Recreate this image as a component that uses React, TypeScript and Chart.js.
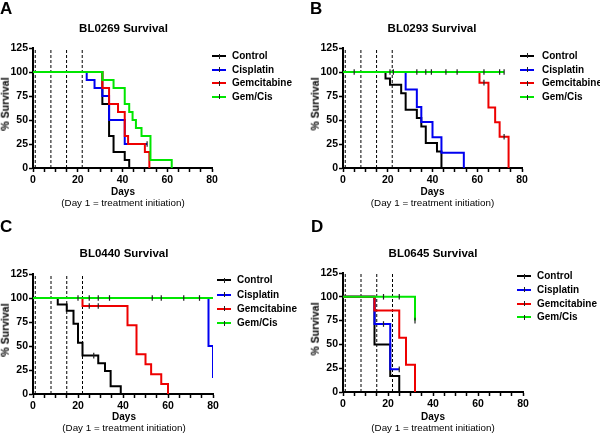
import React, { useEffect, useRef } from 'react';
import { Chart, registerables } from 'chart.js';

Chart.register(...registerables);

type Pt = [number, number];

// ---------- shared data ----------
const seriesNames = ['Control', 'Cisplatin', 'Gemcitabine', 'Gem/Cis'];
const treatmentDays = [1, 8, 15, 22];
const xTickLabels = [0, 20, 40, 60, 80];
const yTickValues = [0, 25, 50, 75, 100, 125];

// ---------- BL0269 ----------
const bl0269Control: Pt[] = [[0, 100], [31, 66.7], [34, 33.3], [36, 16.7], [41, 8.3], [43, 0]];
const bl0269ControlCens: number[] = [];
const bl0269Cisplatin: Pt[] = [[0, 100], [24, 91.7], [27.5, 83.3], [31, 75], [34, 50], [41, 25], [51, 25]];
const bl0269CisplatinCens: number[] = [51];
const bl0269Gemcitabine: Pt[] = [[0, 100], [31, 83.3], [34, 66.7], [38, 58.3], [41, 33.3], [42.5, 25], [50, 16.7], [52, 0]];
const bl0269GemcitabineCens: number[] = [];
const bl0269GemCis: Pt[] = [[0, 100], [31, 91.7], [36, 83.3], [41, 66.7], [43, 58.3], [44.5, 50], [46, 41.7], [48.5, 33.3], [52.5, 8.3], [62, 0]];
const bl0269GemCisCens: number[] = [];

// ---------- BL0293 ----------
const bl0293Control: Pt[] = [[0, 100], [19, 93.3], [21, 86.7], [26, 77.8], [28, 60.7], [33, 52], [35, 43.3], [37, 26], [42, 17.3], [44, 0]];
const bl0293ControlCens: number[] = [];
const bl0293Cisplatin: Pt[] = [[0, 100], [28, 81.8], [33, 63.6], [35, 48], [40, 32], [44, 16], [54, 0]];
const bl0293CisplatinCens: number[] = [];
const bl0293Gemcitabine: Pt[] = [[0, 100], [61, 88.9], [65, 63], [68, 47.6], [70, 32.5], [74, 0]];
const bl0293GemcitabineCens: number[] = [63, 72];
const bl0293GemCis: Pt[] = [[0, 100], [72, 100]];
const bl0293GemCisCens: number[] = [5, 21, 22.5, 33, 37, 39.5, 46, 51, 63, 70, 72];

// ---------- BL0440 ----------
const bl0440Control: Pt[] = [[0, 100], [11, 93.3], [15, 86.7], [18, 73.3], [20, 53.3], [22, 40], [29, 32], [32, 24], [34.5, 8], [39, 0]];
const bl0440ControlCens: number[] = [27];
const bl0440Cisplatin: Pt[] = [[0, 100], [78, 50], [80, 16.7]];
const bl0440CisplatinCens: number[] = [];
const bl0440Gemcitabine: Pt[] = [[0, 100], [22, 91.7], [42, 71.5], [46, 41.3], [50, 31], [52.5, 20.6], [57, 10.3], [60, 0]];
const bl0440GemcitabineCens: number[] = [25, 29];
const bl0440GemCis: Pt[] = [[0, 100], [80, 100]];
const bl0440GemCisCens: number[] = [20, 25, 29, 34, 53, 57, 67, 74];

// ---------- BL0645 ----------
const bl0645Control: Pt[] = [[0, 100], [14, 50], [21, 16.7], [25, 0]];
const bl0645ControlCens: number[] = [];
const bl0645Cisplatin: Pt[] = [[0, 100], [14, 71.4], [21, 23.8], [25, 23.8]];
const bl0645CisplatinCens: number[] = [18, 25];
const bl0645Gemcitabine: Pt[] = [[0, 100], [14, 85.7], [25, 57.1], [28, 28.6], [32, 0]];
const bl0645GemcitabineCens: number[] = [];
const bl0645GemCis: Pt[] = [[0, 100], [32, 75]];
const bl0645GemCisCens: number[] = [18, 25, 32];

// ---------- styles ----------
const seriesColors = ['#000000', '#0000f0', '#ee0000', '#00e600'];
const seriesOrder = [4, 3, 2, 1];
const FONT = "'Liberation Sans', Arial, Helvetica, sans-serif";

type PanelDef = {
  letter: string;
  title: string;
  left: number;
  top: number;
  area: { l: number; r: number; t: number; b: number };
  letterX: number;
  letterY: number;
  titleCx: number;
  titleCy: number;
  yTitleX: number;
  daysCx: number;
  daysCy: number;
  legLineX: number;
  legTextX: number;
  legYs: number[];
  series: { events: Pt[]; cens: number[] }[];
};

const panels: PanelDef[] = [
  {
    letter: 'A', title: 'BL0269 Survival', left: 0, top: 0,
    area: { l: 33, r: 212, t: 48, b: 168 },
    letterX: 0, letterY: 0, titleCx: 123.5, titleCy: 29, yTitleX: 5,
    daysCx: 123, daysCy: 192, legLineX: 212, legTextX: 232, legYs: [56, 69.5, 83, 96.7],
    series: [
      { events: bl0269Control, cens: bl0269ControlCens },
      { events: bl0269Cisplatin, cens: bl0269CisplatinCens },
      { events: bl0269Gemcitabine, cens: bl0269GemcitabineCens },
      { events: bl0269GemCis, cens: bl0269GemCisCens },
    ],
  },
  {
    letter: 'B', title: 'BL0293 Survival', left: 300, top: 0,
    area: { l: 43, r: 222, t: 48, b: 168 },
    letterX: 10, letterY: 0, titleCx: 132, titleCy: 29, yTitleX: 15,
    daysCx: 132.5, daysCy: 192, legLineX: 220, legTextX: 242, legYs: [55.7, 69.7, 83, 97],
    series: [
      { events: bl0293Control, cens: bl0293ControlCens },
      { events: bl0293Cisplatin, cens: bl0293CisplatinCens },
      { events: bl0293Gemcitabine, cens: bl0293GemcitabineCens },
      { events: bl0293GemCis, cens: bl0293GemCisCens },
    ],
  },
  {
    letter: 'C', title: 'BL0440 Survival', left: 0, top: 217,
    area: { l: 33, r: 213, t: 57, b: 177 },
    letterX: 0, letterY: 1, titleCx: 124, titleCy: 36.7, yTitleX: 5,
    daysCx: 124, daysCy: 200, legLineX: 217, legTextX: 237, legYs: [63.3, 77.7, 91.7, 106],
    series: [
      { events: bl0440Control, cens: bl0440ControlCens },
      { events: bl0440Cisplatin, cens: bl0440CisplatinCens },
      { events: bl0440Gemcitabine, cens: bl0440GemcitabineCens },
      { events: bl0440GemCis, cens: bl0440GemCisCens },
    ],
  },
  {
    letter: 'D', title: 'BL0645 Survival', left: 300, top: 217,
    area: { l: 43, r: 223, t: 56, b: 175 },
    letterX: 11, letterY: 1, titleCx: 133, titleCy: 36.7, yTitleX: 15,
    daysCx: 133, daysCy: 200, legLineX: 217, legTextX: 237, legYs: [59.3, 72.7, 86.7, 100],
    series: [
      { events: bl0645Control, cens: bl0645ControlCens },
      { events: bl0645Cisplatin, cens: bl0645CisplatinCens },
      { events: bl0645Gemcitabine, cens: bl0645GemcitabineCens },
      { events: bl0645GemCis, cens: bl0645GemCisCens },
    ],
  },
];

function buildSeries(events: Pt[], cens: number[]) {
  const pts: { x: number; y: number; c: boolean }[] = events.map(([x, y]) => ({ x, y, c: false }));
  for (const d of cens) {
    let y = 100;
    for (const [ex, ey] of events) if (ex <= d) y = ey;
    pts.push({ x: d, y, c: true });
  }
  pts.sort((a, b) => a.x - b.x || Number(a.c) - Number(b.c));
  return pts;
}

function PanelChart({ p }: { p: PanelDef }) {
  const ref = useRef<HTMLCanvasElement>(null);
  useEffect(() => {
    const yw = 30;
    const xh = 22;
    const tickFont = { family: FONT, size: 10.5, weight: 'bold' as const };
    const datasets: any[] = [];
    p.series.forEach((s, i) => {
      datasets.push({
        label: seriesNames[i],
        data: buildSeries(s.events, s.cens),
        stepped: true,
        borderColor: seriesColors[i],
        borderWidth: 2,
        fill: false,
        order: seriesOrder[i],
        pointStyle: 'line',
        pointRotation: 90,
        pointRadius: (ctx: any) => (ctx.raw && ctx.raw.c ? 2.8 : 0),
        pointHoverRadius: 0,
        pointBorderColor: '#222',
        pointBorderWidth: 1.2,
      });
    });
    treatmentDays.forEach((d) => {
      datasets.push({
        label: 'Day ' + d,
        data: [{ x: d, y: 0 }, { x: d, y: 125 }],
        borderColor: '#000',
        borderWidth: 1,
        borderDash: [3, 2],
        pointRadius: 0,
        fill: false,
        order: 10,
      });
    });
    const chart = new Chart(ref.current as HTMLCanvasElement, {
      type: 'line',
      data: { datasets },
      options: {
        responsive: false,
        animation: false,
        events: [],
        layout: {
          padding: {
            left: p.area.l - yw,
            top: p.area.t,
            right: 300 - p.area.r,
            bottom: 217 - p.area.b - xh,
          },
        },
        plugins: {
          legend: { display: false },
          tooltip: { enabled: false },
          title: { display: false },
        },
        scales: {
          x: {
            type: 'linear',
            min: 0,
            max: 80,
            afterFit: (s: any) => { s.height = xh; },
            ticks: {
              stepSize: 5,
              autoSkip: false,
              maxRotation: 0,
              padding: 2,
              color: '#000',
              font: tickFont,
              callback: (v: any) => (xTickLabels.includes(Number(v)) ? String(v) : ''),
            },
            grid: { display: true, drawOnChartArea: false, drawTicks: true, tickLength: 4, tickColor: '#000', tickWidth: 1.5 },
            border: { display: true, color: '#000', width: 2 },
          },
          y: {
            type: 'linear',
            min: 0,
            max: 125,
            afterFit: (s: any) => { s.width = yw; },
            afterBuildTicks: (s: any) => { s.ticks = yTickValues.map((v) => ({ value: v })); },
            ticks: {
              padding: 1,
              color: '#000',
              font: tickFont,
            },
            grid: { display: true, drawOnChartArea: false, drawTicks: true, tickLength: 4, tickColor: '#000', tickWidth: 1.5 },
            border: { display: true, color: '#000', width: 2 },
          },
        },
      } as any,
    });
    return () => chart.destroy();
  }, [p]);
  return (
    <canvas
      ref={ref}
      width={300}
      height={217}
      style={{ position: 'absolute', left: 0, top: 0, width: 300, height: 217 }}
    />
  );
}

const centered = (cx: number, cy: number, font: string, extra: React.CSSProperties = {}): React.CSSProperties => ({
  position: 'absolute',
  left: cx,
  top: cy,
  transform: 'translate(-50%, -50%)',
  font,
  lineHeight: 1,
  whiteSpace: 'nowrap',
  color: '#000',
  ...extra,
});

function Panel({ p }: { p: PanelDef }) {
  const midY = (p.area.t + p.area.b) / 2 - 4;
  return (
    <div style={{ position: 'absolute', left: p.left, top: p.top, width: 300, height: 217, overflow: 'hidden' }}>
      <PanelChart p={p} />
      <div style={{ position: 'absolute', left: p.letterX, top: p.letterY, font: `bold 17px ${FONT}`, lineHeight: 1, color: '#000' }}>{p.letter}</div>
      <div style={centered(p.titleCx, p.titleCy, `bold 11.5px ${FONT}`)}>{p.title}</div>
      <div style={centered(p.yTitleX, midY, `bold 10.5px ${FONT}`, { transform: 'translate(-50%, -50%) rotate(-90deg)' })}>% Survival</div>
      <div style={centered(p.daysCx, p.daysCy, `bold 10px ${FONT}`)}>Days</div>
      <div style={centered(p.daysCx, p.daysCy + 11, `9.8px ${FONT}`)}>(Day 1 = treatment initiation)</div>
      {seriesNames.map((name, i) => (
        <React.Fragment key={name}>
          <div style={{ position: 'absolute', left: p.legLineX, top: p.legYs[i] - 1, width: 14, height: 2, background: seriesColors[i] }} />
          <div style={{ position: 'absolute', left: p.legLineX + 6.5, top: p.legYs[i] - 2.5, width: 1, height: 5, background: '#222' }} />
          <div style={{ position: 'absolute', left: p.legTextX, top: p.legYs[i], transform: 'translateY(-50%)', font: `bold 10px ${FONT}`, lineHeight: 1, whiteSpace: 'nowrap', color: '#000' }}>{name}</div>
        </React.Fragment>
      ))}
    </div>
  );
}

export default function App() {
  return (
    <div style={{ position: 'fixed', left: 0, top: 0, width: 600, height: 434, background: '#fff', overflow: 'hidden' }}>
      {panels.map((p) => (
        <Panel key={p.letter} p={p} />
      ))}
    </div>
  );
}
